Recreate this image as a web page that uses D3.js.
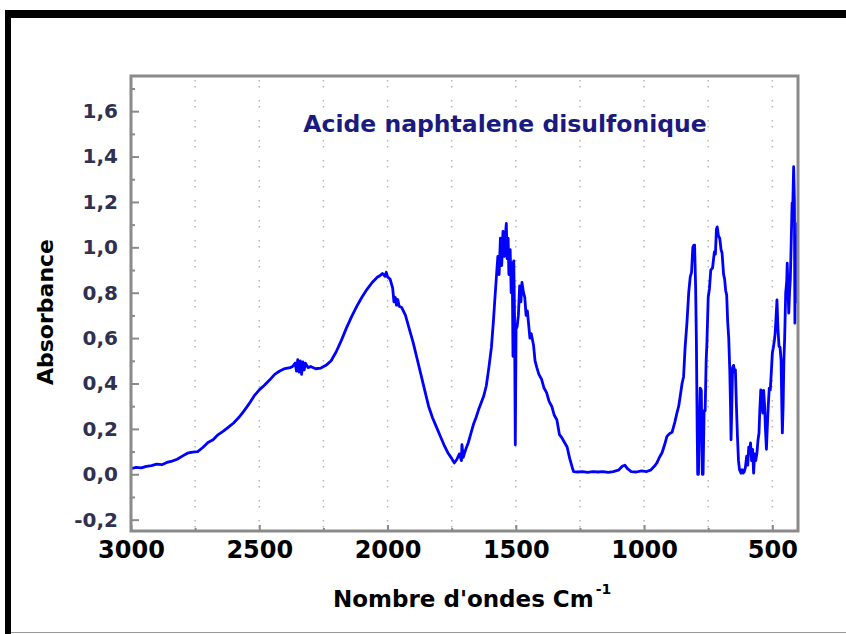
<!DOCTYPE html>
<html>
<head>
<meta charset="utf-8">
<script src="https://d3js.org/d3.v7.min.js"></script>
<style>
  html, body { margin: 0; padding: 0; background: #fff; }
  svg { display: block; }
</style>
</head>
<body>
<div id="chart"></div>
<script>
// IR spectrum (cm-1 -> absorbance)
const wavenumber = [
  3000, 2980, 2960, 2940, 2920, 2900, 2880, 2860, 2840, 2820, 2800, 2780, 2760, 2740, 2720,
  2700, 2680, 2660, 2640, 2620, 2600, 2580, 2560, 2540, 2520, 2500, 2480, 2460, 2440, 2420,
  2400, 2380, 2370, 2360, 2355, 2350, 2345, 2340, 2335, 2330, 2325, 2320, 2310, 2300, 2280,
  2260, 2240, 2220, 2200, 2180, 2160, 2140, 2120, 2100, 2080, 2060, 2040, 2030, 2020, 2010,
  2005, 2000, 1990, 1980, 1975, 1970, 1965, 1960, 1955, 1945, 1930, 1915, 1900, 1885, 1870,
  1855, 1840, 1825, 1810, 1795, 1780, 1765, 1750, 1740, 1730, 1720, 1712, 1710, 1705, 1695,
  1685, 1675, 1665, 1655, 1645, 1635, 1625, 1615, 1605, 1595, 1587, 1580, 1575, 1570, 1565,
  1560, 1555, 1550, 1545, 1540, 1537, 1534, 1530, 1527, 1522, 1518, 1514, 1511, 1508, 1505,
  1502, 1499, 1495, 1490, 1485, 1480, 1476, 1470, 1465, 1460, 1455, 1450, 1445, 1440, 1431,
  1425, 1418, 1410, 1400, 1390, 1380, 1370, 1360, 1350, 1340, 1330, 1320, 1310, 1300, 1290,
  1280, 1275, 1260, 1240, 1220, 1200, 1180, 1160, 1140, 1120, 1100, 1085, 1075, 1065, 1050,
  1030, 1010, 990, 975, 960, 950, 940, 930, 920, 911, 900, 891, 880, 872, 865,
  859, 852, 846, 840, 833, 826, 820, 815, 810, 806, 803, 799, 796, 793, 791,
  788, 785, 781, 777, 773, 770, 766, 762, 758, 755, 750, 745, 740, 733, 726,
  722, 718, 715, 710, 705, 700, 696, 690, 686, 682, 678, 674, 670, 666, 663,
  661, 658, 655, 651, 647, 644, 640, 636, 632, 628, 622, 618, 614, 610, 605,
  600, 596, 592, 588, 585, 581, 577, 573, 569, 565, 560, 556, 552, 549, 545,
  541, 537, 534, 530, 527, 523, 520, 516, 512, 508, 504, 500, 496, 492, 489,
  485, 482, 478, 474, 470, 466, 463, 461, 458, 455, 452, 448, 444, 442, 439,
  436, 433, 430, 427, 423, 420, 417, 414, 412, 410, 407, 404, 402, 400
];
const absorbance = [
  0.025, 0.030, 0.028, 0.035, 0.038, 0.045, 0.042, 0.052, 0.058, 0.066, 0.080, 0.093, 0.098, 0.100, 0.118,
  0.140, 0.152, 0.175, 0.190, 0.208, 0.226, 0.250, 0.278, 0.310, 0.345, 0.372, 0.392, 0.415, 0.440, 0.455,
  0.466, 0.470, 0.475, 0.490, 0.455, 0.505, 0.450, 0.500, 0.440, 0.495, 0.460, 0.490, 0.470, 0.475, 0.465,
  0.468, 0.480, 0.500, 0.540, 0.590, 0.645, 0.695, 0.740, 0.780, 0.815, 0.845, 0.868, 0.875, 0.885, 0.872,
  0.890, 0.870, 0.860, 0.820, 0.760, 0.780, 0.745, 0.770, 0.740, 0.735, 0.700, 0.640, 0.580, 0.510, 0.440,
  0.370, 0.300, 0.250, 0.210, 0.170, 0.130, 0.095, 0.070, 0.050, 0.065, 0.090, 0.060, 0.130, 0.075, 0.110,
  0.140, 0.180, 0.220, 0.250, 0.285, 0.315, 0.345, 0.390, 0.470, 0.560, 0.680, 0.800, 0.880, 0.960, 0.880,
  1.040, 0.920, 1.070, 0.960, 1.060, 1.105, 0.950, 1.040, 0.880, 0.990, 0.800, 0.930, 0.520, 0.940, 0.700,
  0.130, 0.640, 0.650, 0.700, 0.830, 0.760, 0.845, 0.800, 0.780, 0.700, 0.720, 0.660, 0.600, 0.620, 0.570,
  0.500, 0.470, 0.440, 0.420, 0.380, 0.360, 0.320, 0.300, 0.260, 0.240, 0.175, 0.160, 0.140, 0.120, 0.070,
  0.030, 0.012, 0.010, 0.012, 0.008, 0.012, 0.010, 0.012, 0.008, 0.012, 0.018, 0.035, 0.040, 0.025, 0.012,
  0.010, 0.015, 0.012, 0.018, 0.035, 0.050, 0.075, 0.095, 0.130, 0.167, 0.180, 0.185, 0.230, 0.270, 0.300,
  0.345, 0.400, 0.430, 0.560, 0.666, 0.800, 0.870, 0.890, 1.000, 1.010, 1.010, 0.820, 0.580, 0.200, 0.000,
  0.000, 0.180, 0.380, 0.370, 0.000, 0.000, 0.280, 0.280, 0.500, 0.580, 0.780, 0.820, 0.900, 0.910, 0.980,
  0.970, 1.080, 1.090, 1.050, 1.040, 0.990, 0.975, 0.880, 0.860, 0.810, 0.790, 0.670, 0.600, 0.460, 0.300,
  0.152, 0.300, 0.470, 0.480, 0.450, 0.460, 0.300, 0.167, 0.060, 0.020, 0.005, 0.020, 0.005, 0.010, 0.030,
  0.080, 0.040, 0.120, 0.100, 0.138, 0.060, 0.110, 0.005, 0.090, 0.060, 0.094, 0.150, 0.182, 0.280, 0.372,
  0.300, 0.270, 0.370, 0.300, 0.200, 0.110, 0.200, 0.300, 0.380, 0.372, 0.450, 0.534, 0.560, 0.590, 0.622,
  0.700, 0.768, 0.640, 0.563, 0.560, 0.504, 0.300, 0.182, 0.300, 0.504, 0.600, 0.798, 0.850, 0.930, 0.820,
  0.710, 0.800, 0.857, 1.000, 1.194, 1.200, 1.355, 1.200, 0.666, 0.900, 1.050, 0.760, 1.106, 0.900
];

const xMajorTicks = [3000, 2500, 2000, 1500, 1000, 500];
const xMinorTicks = [2750, 2250, 1750, 1250, 750];
const xTickLabels = ["3000", "2500", "2000", "1500", "1000", "500"];
const xGrid = [2750, 2500, 2250, 2000, 1750, 1500, 1250, 1000, 750, 500];

const yMajorTicks = [-0.2, 0, 0.2, 0.4, 0.6, 0.8, 1.0, 1.2, 1.4, 1.6];
const yMinorTicks = [-0.1, 0.1, 0.3, 0.5, 0.7, 0.9, 1.1, 1.3, 1.5, 1.7];
const yTickLabels = ["-0,2", "0,0", "0,2", "0,4", "0,6", "0,8", "1,0", "1,2", "1,4", "1,6"];

const titleText = "Acide naphtalene disulfonique";
const yTitle = "Absorbance";
const xTitle = "Nombre d'ondes Cm";

const width = 846
const height = 634
const margin = { top: 76, right: 48, bottom: 103, left: 131 }
const innerW = width - margin.left - margin.right
const innerH = height - margin.top - margin.bottom
const frameColor = "#8a8a8a"
const boldFont = "'DejaVu Sans', sans-serif"

const svg = d3.select("#chart")
  .append("svg")
  .attr("width", width)
  .attr("height", height)

// outer black frame (top and left edges) + thin grey bottom line
svg.append("rect").attr("x", 5).attr("y", 10).attr("width", width - 5).attr("height", 8).attr("fill", "#000")
svg.append("rect").attr("x", 5).attr("y", 10).attr("width", 6).attr("height", height - 10).attr("fill", "#000")
svg.append("line")
  .attr("x1", 11).attr("x2", width)
  .attr("y1", 632.5).attr("y2", 632.5)
  .attr("stroke", "#9a9a9a")

const g = svg.append("g")
  .attr("transform", `translate(${margin.left},${margin.top})`)

const x = d3.scaleLinear().domain([3000, 400]).range([0, innerW])
const y = d3.scaleLinear().domain([-0.25, 1.755]).range([innerH, 0])

// dotted vertical grid
g.append("g")
  .selectAll("line")
  .data(xGrid)
  .join("line")
  .attr("x1", d => x(d)).attr("x2", d => x(d))
  .attr("y1", 4).attr("y2", innerH)
  .attr("stroke", "#b4b4b4")
  .attr("stroke-width", 1.5)
  .attr("stroke-dasharray", "1.5,4.5,1.5,12.5")

// title
g.append("text")
  .attr("x", x(1542))
  .attr("y", 56)
  .attr("text-anchor", "middle")
  .attr("fill", "#1a1a80")
  .attr("font-family", boldFont)
  .attr("font-weight", "bold")
  .attr("font-size", "23.5px")
  .text(titleText)

// spectrum
g.append("clipPath").attr("id", "plot-clip")
  .append("rect").attr("width", innerW).attr("height", innerH)

const line = d3.line()
  .x(d => x(d[0]))
  .y(d => y(d[1]))

g.append("path")
  .datum(d3.zip(wavenumber, absorbance))
  .attr("clip-path", "url(#plot-clip)")
  .attr("fill", "none")
  .attr("stroke", "#0000ff")
  .attr("stroke-width", 2.8)
  .attr("stroke-linejoin", "round")
  .attr("d", line)

// inward ticks
const tickAxis = (axis, transform) => {
  const a = g.append("g").attr("transform", transform).attr("color", frameColor).call(axis)
  a.select(".domain").remove()
  a.selectAll("line").attr("stroke-width", 2)
}
tickAxis(d3.axisRight(y).tickValues(yMajorTicks).tickSize(8).tickFormat(""), "translate(0,0)")
tickAxis(d3.axisRight(y).tickValues(yMinorTicks).tickSize(4).tickFormat(""), "translate(0,0)")
tickAxis(d3.axisTop(x).tickValues(xMajorTicks).tickSize(6).tickFormat(""), `translate(0,${innerH})`)
tickAxis(d3.axisTop(x).tickValues(xMinorTicks).tickSize(3).tickFormat(""), `translate(0,${innerH})`)

// tick labels
const yLabels = g.append("g")
  .call(d3.axisLeft(y).tickValues(yMajorTicks).tickSize(0).tickPadding(13)
    .tickFormat((d, i) => yTickLabels[i]))
yLabels.select(".domain").remove()
yLabels.selectAll("text")
  .attr("fill", "#303050")
  .attr("font-family", boldFont)
  .attr("font-weight", "bold")
  .attr("font-size", "20px")

const xLabels = g.append("g")
  .attr("transform", `translate(0,${innerH})`)
  .call(d3.axisBottom(x).tickValues(xMajorTicks).tickSize(0).tickPadding(10)
    .tickFormat((d, i) => xTickLabels[i]))
xLabels.select(".domain").remove()
xLabels.selectAll("text")
  .attr("fill", "#000")
  .attr("font-family", boldFont)
  .attr("font-weight", "bold")
  .attr("font-size", "24px")

// plot frame
g.append("rect")
  .attr("width", innerW)
  .attr("height", innerH)
  .attr("fill", "none")
  .attr("stroke", frameColor)
  .attr("stroke-width", 3)

// axis titles
svg.append("text")
  .attr("transform", "translate(53,312) rotate(-90)")
  .attr("text-anchor", "middle")
  .attr("fill", "#000")
  .attr("font-family", boldFont)
  .attr("font-weight", "bold")
  .attr("font-size", "22px")
  .text(yTitle)

const xt = svg.append("text")
  .attr("x", 333)
  .attr("y", 607)
  .attr("fill", "#000")
  .attr("font-family", boldFont)
  .attr("font-weight", "bold")
  .attr("font-size", "23px")
xt.append("tspan").text(xTitle)
xt.append("tspan")
  .attr("dx", 2)
  .attr("dy", -13)
  .attr("font-size", "14px")
  .text("-1")
</script>
</body>
</html>
